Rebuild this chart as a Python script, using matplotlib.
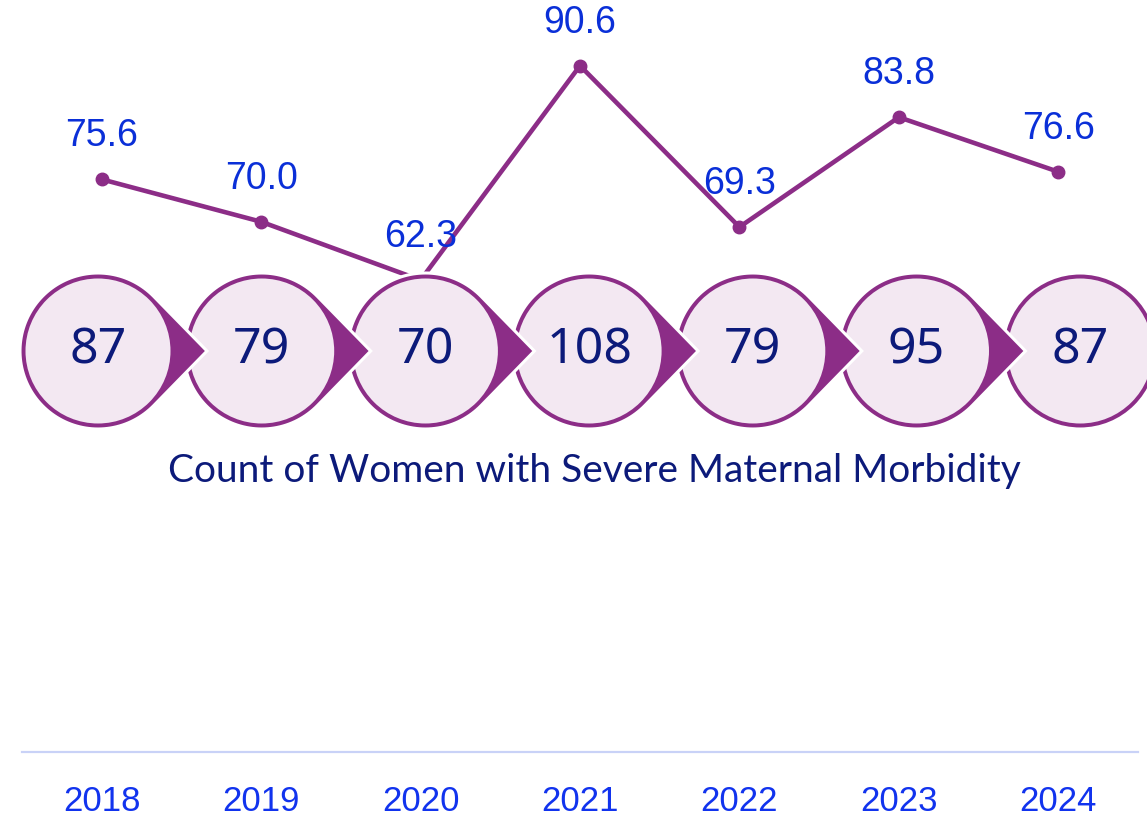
import numpy as np
import matplotlib.pyplot as plt

years = ["2018", "2019", "2020", "2021", "2022", "2023", "2024"]
rates = [75.6, 70.0, 62.3, 90.6, 69.3, 83.8, 76.6]
counts = [87, 79, 70, 108, 79, 95, 87]
subtitle = "Count of Women with Severe Maternal Morbidity"

purple = "#8C2D87"
lavender = "#F3E8F2"
navy = "#0C1A7A"
blue = "#0A2FD8"

W, H = 1147, 818
fig = plt.figure(figsize=(W / 100, H / 100), dpi=100)

# line chart (rate) in the back
ax = fig.add_axes([22 / W, (H - 752) / H, (1138 - 22) / W, 757.5 / H])
x = np.arange(len(years))
ax.plot(x, rates, color=purple, lw=3.3, marker="o", ms=9, zorder=2)
for xi, v in zip(x, rates):
    ax.annotate(f"{v:.1f}", (xi, v), xytext=(0, 31), textcoords="offset points",
                ha="center", va="center", fontsize=27, color=blue,
                family="Liberation Sans", zorder=5)
ax.set_xlim(-0.5, len(years) - 0.5)
ax.set_ylim(0, 100)
ax.set_xticks(x)
ax.set_xticklabels(years, fontsize=25, color="#1133EE", family="Liberation Sans")
ax.tick_params(axis="x", length=0, pad=24)
ax.set_yticks([])
for s in ["top", "left", "right"]:
    ax.spines[s].set_visible(False)
ax.spines["bottom"].set_color("#C9D2F7")
ax.spines["bottom"].set_linewidth(1.6)
ax.patch.set_alpha(0)

# circles with arrows on top, pixel coordinates
ov = fig.add_axes([0, 0, 1, 1])
ov.set_xlim(0, W)
ov.set_ylim(H, 0)
ov.axis("off")
ov.patch.set_alpha(0)

R = 78
tip = 109
cy = 351
centers = 98 + 163.7 * np.arange(len(counts))


def teardrop(cx, r, d):
    th = np.arccos(r / d)
    a = np.linspace(th, 2 * np.pi - th, 120)
    px = np.concatenate([cx + r * np.cos(a), [cx + d]])
    py = np.concatenate([cy + r * np.sin(a), [cy]])
    return px, py


for i in range(len(counts) - 1, -1, -1):
    cx = centers[i]
    z = 10 + (len(counts) - i) * 3
    if i < len(counts) - 1:
        px, py = teardrop(cx, R, tip)
        ov.fill(px, py, color=purple, ec="white", lw=2.2, zorder=z, joinstyle="miter")
    else:
        ov.add_patch(plt.Circle((cx, cy), R, color=purple, ec="white", lw=2.2, zorder=z))
    ov.add_patch(plt.Circle((cx, cy), R - 5.5, color=lavender, lw=0, zorder=z + 1))
    ov.text(cx, cy, str(counts[i]), ha="center", va="center", fontsize=36,
            color=navy, family="Noto Sans", zorder=z + 2)

ov.text(594, 471, subtitle, ha="center", va="center", fontsize=28,
        color=navy, family="Lato")

fig.savefig("out.png", dpi=100)
